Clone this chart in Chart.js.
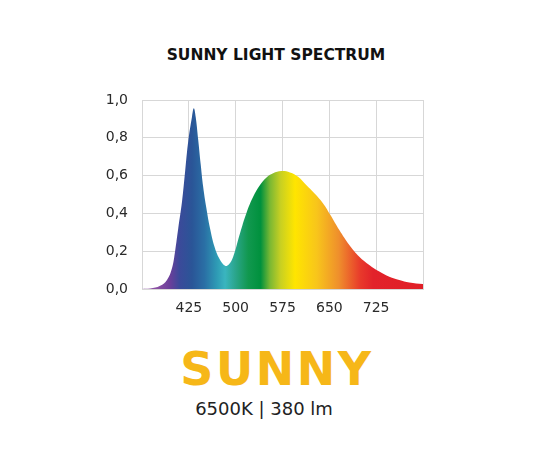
<!DOCTYPE html>
<html>
<head>
<meta charset="utf-8">
<script src="https://cdn.jsdelivr.net/npm/chart.js@4"></script>
<style>
  body { margin: 0; background: #fff; font-family: "DejaVu Sans", sans-serif; }
  #wrap { position: relative; width: 550px; height: 450px; overflow: hidden; }
  #chart-box { position: absolute; left: 0; top: 0; width: 550px; height: 330px; }
  .title { position: absolute; left: 0; top: 45px; width: 552px; text-align: center;
           font-weight: bold; font-size: 15.5px; line-height: 20px; color: #111; }
  .brand { position: absolute; left: 0; top: 346px; width: 554px; text-align: center;
           font-weight: bold; font-size: 46px; line-height: 46px; letter-spacing: 2.5px; color: #f6b718; }
  .spec { position: absolute; left: 0; top: 400px; width: 528px; text-align: center;
          font-size: 18px; line-height: 18px; color: #222; }
</style>
</head>
<body>
<div id="wrap">
  <div class="title">SUNNY LIGHT SPECTRUM</div>
  <div id="chart-box"><canvas id="spectrum-chart"></canvas></div>
  <div class="brand">SUNNY</div>
  <div class="spec">6500K | 380 lm</div>
</div>
<script>
// wavelength (nm) and relative intensity
var wavelengths = [350, 363, 379, 390, 398, 403, 408, 414, 419, 424, 430, 433, 436, 440, 444, 448,
                   453, 459, 466, 474, 483, 489, 496, 507, 517, 528, 539, 549, 560, 573, 587, 600,
                   613, 626, 640, 652, 666, 682, 698, 714, 730, 746, 762, 778, 800];
var intensity = [0, 0.002, 0.017, 0.048, 0.11, 0.20, 0.32, 0.46, 0.62, 0.78, 0.91, 0.956, 0.91, 0.79, 0.66, 0.54,
                 0.43, 0.32, 0.225, 0.16, 0.123, 0.13, 0.171, 0.295, 0.40, 0.488, 0.55, 0.589, 0.612, 0.624, 0.617, 0.594,
                 0.55, 0.506, 0.453, 0.39, 0.312, 0.233, 0.171, 0.127, 0.092, 0.065, 0.048, 0.035, 0.026];
var xLabels = [425, 500, 575, 650, 725];

// spectrum colours by wavelength
var colorStops = [
  [375, '#8a4fa3'], [395, '#6a3f9a'], [410, '#3b4a9a'], [430, '#2a5597'], [450, '#2a6fa5'],
  [470, '#2e9bb5'], [483, '#3ab5bf'], [500, '#2aa58a'], [520, '#11984f'], [540, '#00913d'],
  [555, '#7ab833'], [572, '#c8d022'], [595, '#ffe500'], [630, '#f8c51b'], [665, '#ef8f2c'],
  [700, '#e8392b'], [720, '#e2222a'], [800, '#e01f27']
];

function spectrumFill(context) {
  var chart = context.chart;
  if (!chart.chartArea) return null;
  var x = chart.scales.x;
  var x0 = x.getPixelForValue(350), x1 = x.getPixelForValue(800);
  var g = chart.ctx.createLinearGradient(x0, 0, x1, 0);
  for (let i = 0; i < colorStops.length; i++) {
    g.addColorStop((colorStops[i][0] - 350) / 450, colorStops[i][1]);
  }
  return g;
}

var points = [];
for (let i = 0; i < wavelengths.length; i++) {
  points.push({ x: wavelengths[i], y: intensity[i] });
}

var gridColor = '#d7d7d7';
var tickFont = { family: 'DejaVu Sans', size: 14 };

new Chart(document.getElementById('spectrum-chart'), {
  type: 'line',
  data: {
    datasets: [{
      data: points,
      fill: 'origin',
      backgroundColor: spectrumFill,
      borderWidth: 0,
      pointRadius: 0,
      tension: 0.4
    }]
  },
  options: {
    responsive: true,
    maintainAspectRatio: false,
    animation: false,
    layout: { padding: { left: 0, top: 100, right: 127, bottom: 0 } },
    scales: {
      x: {
        type: 'linear',
        min: 350,
        max: 800,
        afterFit: function (scale) { scale.height = 41; },
        afterBuildTicks: function (scale) {
          scale.ticks = [350, 425, 500, 575, 650, 725, 800].map(function (v) { return { value: v }; });
        },
        ticks: {
          autoSkip: false,
          maxRotation: 0,
          padding: 11,
          color: '#2a2a2a',
          font: tickFont,
          callback: function (v) { return xLabels.indexOf(v) >= 0 ? String(v) : ''; }
        },
        grid: { color: gridColor, drawTicks: false },
        border: { color: gridColor }
      },
      y: {
        min: 0,
        max: 1,
        afterFit: function (scale) { scale.width = 142; },
        ticks: {
          stepSize: 0.2,
          padding: 14,
          color: '#2a2a2a',
          font: tickFont,
          callback: function (v) { return v.toFixed(1).replace('.', ','); }
        },
        grid: { color: gridColor, drawTicks: false },
        border: { color: gridColor }
      }
    },
    plugins: {
      legend: { display: false },
      tooltip: { enabled: false }
    }
  }
});
</script>
</body>
</html>
